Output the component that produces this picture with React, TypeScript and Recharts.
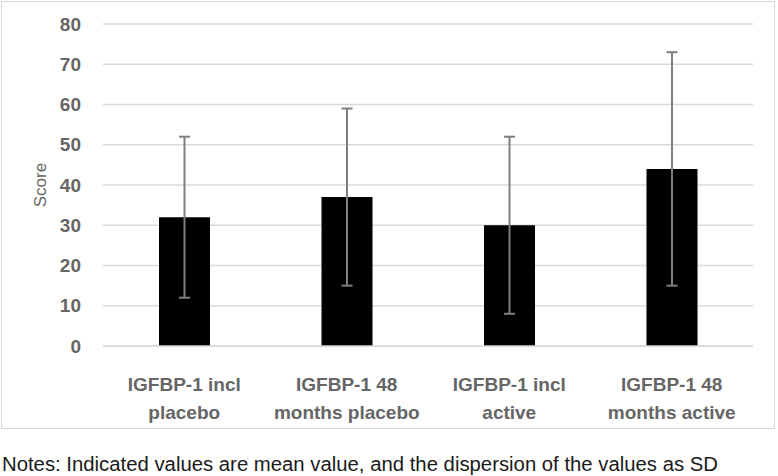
import { Bar, BarChart, CartesianGrid, ErrorBar, XAxis, YAxis } from "recharts";

const categories = [
  "IGFBP-1 incl placebo",
  "IGFBP-1 48 months placebo",
  "IGFBP-1 incl active",
  "IGFBP-1 48 months active",
];
const tickLines: Record<string, string[]> = {
  "IGFBP-1 incl placebo": ["IGFBP-1 incl", "placebo"],
  "IGFBP-1 48 months placebo": ["IGFBP-1 48", "months placebo"],
  "IGFBP-1 incl active": ["IGFBP-1 incl", "active"],
  "IGFBP-1 48 months active": ["IGFBP-1 48", "months active"],
};
const means = [32, 37, 30, 44];
const sds = [20, 22, 22, 29];
const yTicks = [0, 10, 20, 30, 40, 50, 60, 70, 80];

const data = categories.map((name, i) => ({ name, mean: means[i], sd: sds[i] }));

const FONT = '"Liberation Sans", Arial, sans-serif';
const GREY = "#666666";

const CategoryTick = ({ x, y, payload }: any) => {
  const lines = tickLines[payload.value] ?? [payload.value];
  return (
    <text x={x} y={y} textAnchor="middle" fontFamily={FONT} fontSize={19} fontWeight={700} fill={GREY}>
      {lines.map((line, i) => (
        <tspan key={i} x={x} y={y + 37 + i * 28}>
          {line}
        </tspan>
      ))}
    </text>
  );
};

export default function App() {
  return (
    <div style={{ position: "relative", width: 778, height: 476, background: "#fff" }}>
      <style>{`body { margin: 0; }`}</style>
      <div
        style={{
          position: "absolute",
          left: 1,
          top: 1,
          width: 772,
          height: 426,
          border: "1px solid #d9d9d9",
        }}
      >
        <BarChart width={772} height={426} data={data} margin={{ top: 22, right: 21, bottom: 0, left: 0 }}>
          <CartesianGrid vertical={false} stroke="#d9d9d9" strokeWidth={1.5} />
          <XAxis
            dataKey="name"
            tick={<CategoryTick />}
            tickLine={false}
            axisLine={{ stroke: "#d9d9d9", strokeWidth: 1.5 }}
            interval={0}
            height={82}
          />
          <YAxis
            domain={[0, 80]}
            ticks={yTicks}
            width={101}
            axisLine={false}
            tickLine={false}
            tickSize={0}
            tickMargin={22}
            tick={{ fontFamily: FONT, fontSize: 19, fontWeight: 700, fill: GREY }}
            label={({ viewBox }: any) => (
              <text
                x={38}
                y={viewBox.y + viewBox.height / 2}
                transform={`rotate(-90 38 ${viewBox.y + viewBox.height / 2})`}
                textAnchor="middle"
                dominantBaseline="central"
                fontFamily={FONT}
                fontSize={17}
                fill={GREY}
              >
                Score
              </text>
            )}
          />
          <Bar dataKey="mean" fill="#000000" barSize={51} isAnimationActive={false}>
            <ErrorBar dataKey="sd" direction="y" width={5.5} stroke="#7f7f7f" strokeWidth={2} isAnimationActive={false} />
          </Bar>
        </BarChart>
      </div>
      <svg style={{ position: "absolute", left: 0, top: 440 }} width={778} height={36}>
        <text
          x={2}
          y={31}
          textLength={716}
          lengthAdjust="spacingAndGlyphs"
          fontFamily={FONT}
          fontSize={20}
          fill="#1a1a1a"
        >
          Notes: Indicated values are mean value, and the dispersion of the values as SD
        </text>
      </svg>
    </div>
  );
}
